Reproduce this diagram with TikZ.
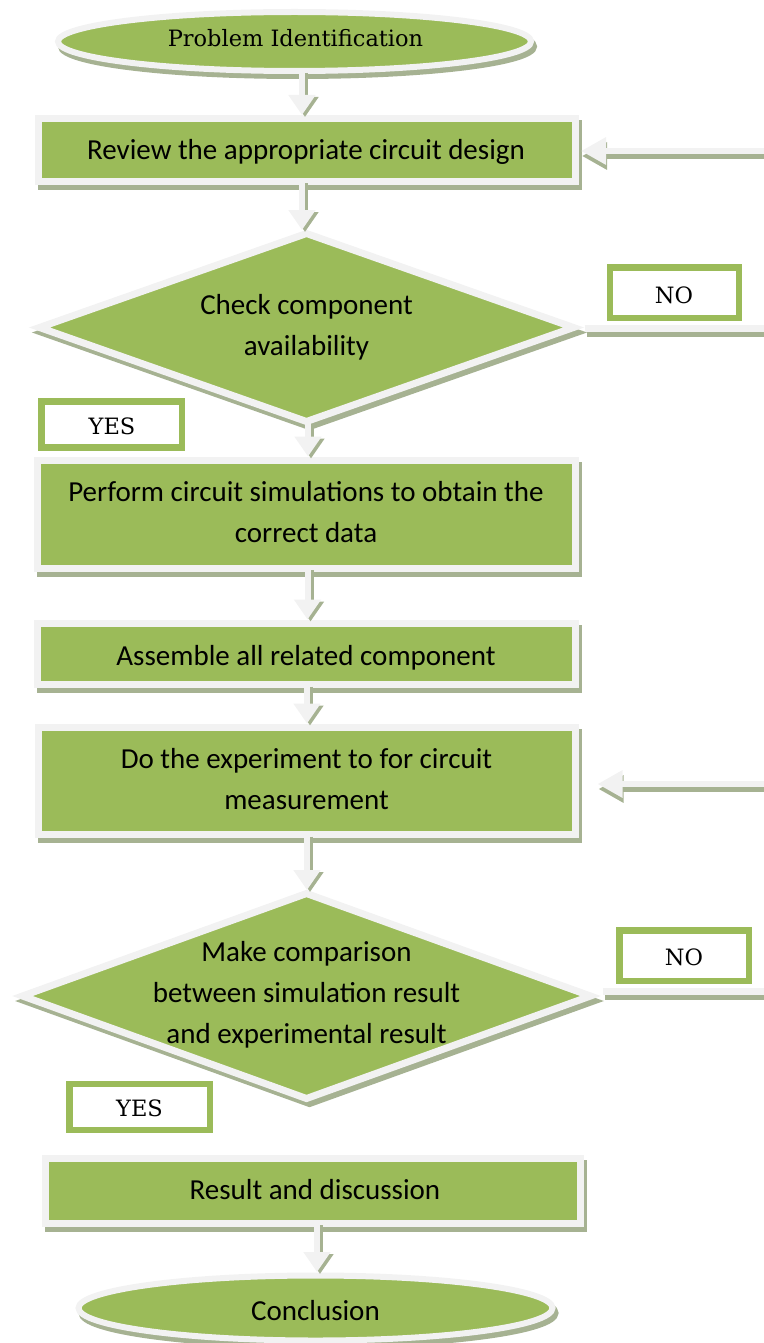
\documentclass[tikz,border=0pt]{standalone}
\usepackage{fontspec}
\setmainfont{Carlito}
\newfontfamily\serifx{DejaVu Serif}
\usetikzlibrary{shapes.geometric,arrows.meta}
\definecolor{gr}{RGB}{155,187,89}
\definecolor{lt}{RGB}{242,242,242}
\definecolor{sh}{RGB}{166,178,146}
\tikzset{
 shd/.style={preaction={draw=sh,fill=sh,line width=#1,transform canvas={shift={(3,5)}}}},
 box/.style={rectangle,draw=lt,fill=gr,line width=7pt,inner sep=0pt,outer sep=0pt,shd=7pt},
 dia/.style={diamond,draw=lt,fill=gr,line width=7pt,inner sep=0pt,outer sep=0pt,shd=7pt},
 ell/.style={ellipse,draw=lt,fill=gr,line width=6pt,inner sep=0pt,outer sep=0pt,shd=6pt},
 lab/.style={rectangle,draw=gr,fill=white,line width=6.5pt,inner sep=0pt,outer sep=0pt},
 stxt/.style={anchor=base,inner sep=0pt,align=center,font=\fontsize{29}{41}\selectfont},
 rtxt/.style={anchor=base,inner sep=0pt,font=\serifx\fontsize{22.5}{26}\selectfont},
 arsh/.style={draw=sh,line width=6pt,-{Triangle[length=20pt,width=26pt]},transform canvas={shift={(3,2)}}},
 arr/.style={draw=lt,line width=6pt,-{Triangle[length=20pt,width=26pt]}},
 harsh/.style={draw=sh,line width=6pt,-{Triangle[length=25pt,width=26pt]},transform canvas={shift={(1,5)}}},
 harr/.style={draw=lt,line width=6pt,-{Triangle[length=25pt,width=26pt]}},
 lnsh/.style={draw=sh,line width=7pt,transform canvas={shift={(2,5)}}},
 ln/.style={draw=lt,line width=7pt},
}
\begin{document}
\begin{tikzpicture}[x=1pt,y=-1pt]
\useasboundingbox (0,0) rectangle (763,1343);
% shapes
\node[ell,minimum width=473pt,minimum height=59pt] (e1) at (294.5,41.5) {};
\node[box,minimum width=537pt,minimum height=63pt] (b1) at (307,150) {};
\node[dia,minimum width=534pt,minimum height=188pt] (d1) at (306.5,327.5) {};
\node[box,minimum width=538pt,minimum height=108pt] (b2) at (306,514) {};
\node[box,minimum width=538pt,minimum height=61.5pt] (b3) at (306,653.75) {};
\node[box,minimum width=537pt,minimum height=107.5pt] (b4) at (306.5,780.75) {};
\node[dia,minimum width=568pt,minimum height=205pt] (d2) at (306.5,996) {};
\node[box,minimum width=535pt,minimum height=65pt] (b5) at (313,1190.5) {};
\node[ell,minimum width=474pt,minimum height=65pt] (e2) at (315.5,1308) {};
% labels
\node[lab,minimum width=129pt,minimum height=50.5pt] (no1) at (674.5,292.75) {};
\node[lab,minimum width=140.5pt,minimum height=46pt] (yes1) at (111.75,424.5) {};
\node[lab,minimum width=129.5pt,minimum height=50.5pt] (no2) at (684.25,955.75) {};
\node[lab,minimum width=140.5pt,minimum height=46pt] (yes2) at (139.75,1107) {};
% texts (base anchor = baseline of the last line)
\node[rtxt] (e1t) at (295.5,46.7) {Problem Identification};
\node[stxt] (b1t) at (306,160) {Review the appropriate circuit design};
\node[stxt] (d1t) at (306.5,355.5) {Check component\\availability};
\node[stxt] (b2t) at (306,542.7) {Perform circuit simulations to obtain the\\correct data};
\node[stxt] (b3t) at (306,665) {Assemble all related component};
\node[stxt] (b4t) at (306.5,809.5) {Do the experiment to for circuit\\measurement};
\node[stxt] (d2t) at (306.5,1043.5) {Make comparison\\between simulation result\\and experimental result};
\node[stxt] (b5t) at (315,1199.5) {Result and discussion};
\node[stxt] (e2t) at (315.5,1320.7) {Conclusion};
\node[rtxt] (no1t) at (674,303.3) {NO};
\node[rtxt] (yes1t) at (112,434) {YES};
\node[rtxt] (no2t) at (684,965) {NO};
\node[rtxt] (yes2t) at (139.5,1116.7) {YES};
% right-side coordinates
\coordinate (r1) at (770,151);
\coordinate (r2) at (770,784);
\coordinate (r3) at (770,328.5);
\coordinate (r4) at (770,991);
% shadows of connectors
\draw[arsh] ([xshift=7.5pt]e1.south) -- ([xshift=-5pt,yshift=3.5pt]b1.north);
\draw[arsh] ([xshift=-5pt]b1.south) -- ([xshift=-4.5pt,yshift=3.5pt]d1.north);
\draw[arsh] ([xshift=1.5pt]d1.south) -- ([xshift=2pt,yshift=3.5pt]b2.north);
\draw[arsh] ([xshift=1.5pt]b2.south) -- ([xshift=1.5pt,yshift=3.5pt]b3.north);
\draw[arsh] ([xshift=1pt]b3.south) -- ([xshift=0.5pt,yshift=3.5pt]b4.north);
\draw[arsh] ([xshift=0.5pt]b4.south) -- ([xshift=0.5pt,yshift=3.5pt]d2.north);
\draw[arsh] ([xshift=4pt]b5.south) -- ([xshift=1.5pt,yshift=3.5pt]e2.north);
\draw[harsh,shorten >=5.5pt] (r1) -- (r1 -| b1.east);
\draw[harsh,shorten >=22.5pt] (r2) -- (r2 -| b4.east);
\draw[lnsh] ([xshift=11pt,yshift=-1pt]d1.east) -- (r3);
\draw[lnsh] ([xshift=12.5pt,yshift=5pt]d2.east) -- (r4);
% connectors
\draw[arr] ([xshift=7.5pt]e1.south) -- ([xshift=-5pt,yshift=3.5pt]b1.north);
\draw[arr] ([xshift=-5pt]b1.south) -- ([xshift=-4.5pt,yshift=3.5pt]d1.north);
\draw[arr] ([xshift=1.5pt]d1.south) -- ([xshift=2pt,yshift=3.5pt]b2.north);
\draw[arr] ([xshift=1.5pt]b2.south) -- ([xshift=1.5pt,yshift=3.5pt]b3.north);
\draw[arr] ([xshift=1pt]b3.south) -- ([xshift=0.5pt,yshift=3.5pt]b4.north);
\draw[arr] ([xshift=0.5pt]b4.south) -- ([xshift=0.5pt,yshift=3.5pt]d2.north);
\draw[arr] ([xshift=4pt]b5.south) -- ([xshift=1.5pt,yshift=3.5pt]e2.north);
\draw[harr,shorten >=5.5pt] (r1) -- (r1 -| b1.east);
\draw[harr,shorten >=22.5pt] (r2) -- (r2 -| b4.east);
\draw[ln] ([xshift=11pt,yshift=-1pt]d1.east) -- (r3);
\draw[ln] ([xshift=12.5pt,yshift=5pt]d2.east) -- (r4);
\end{tikzpicture}
\end{document}
